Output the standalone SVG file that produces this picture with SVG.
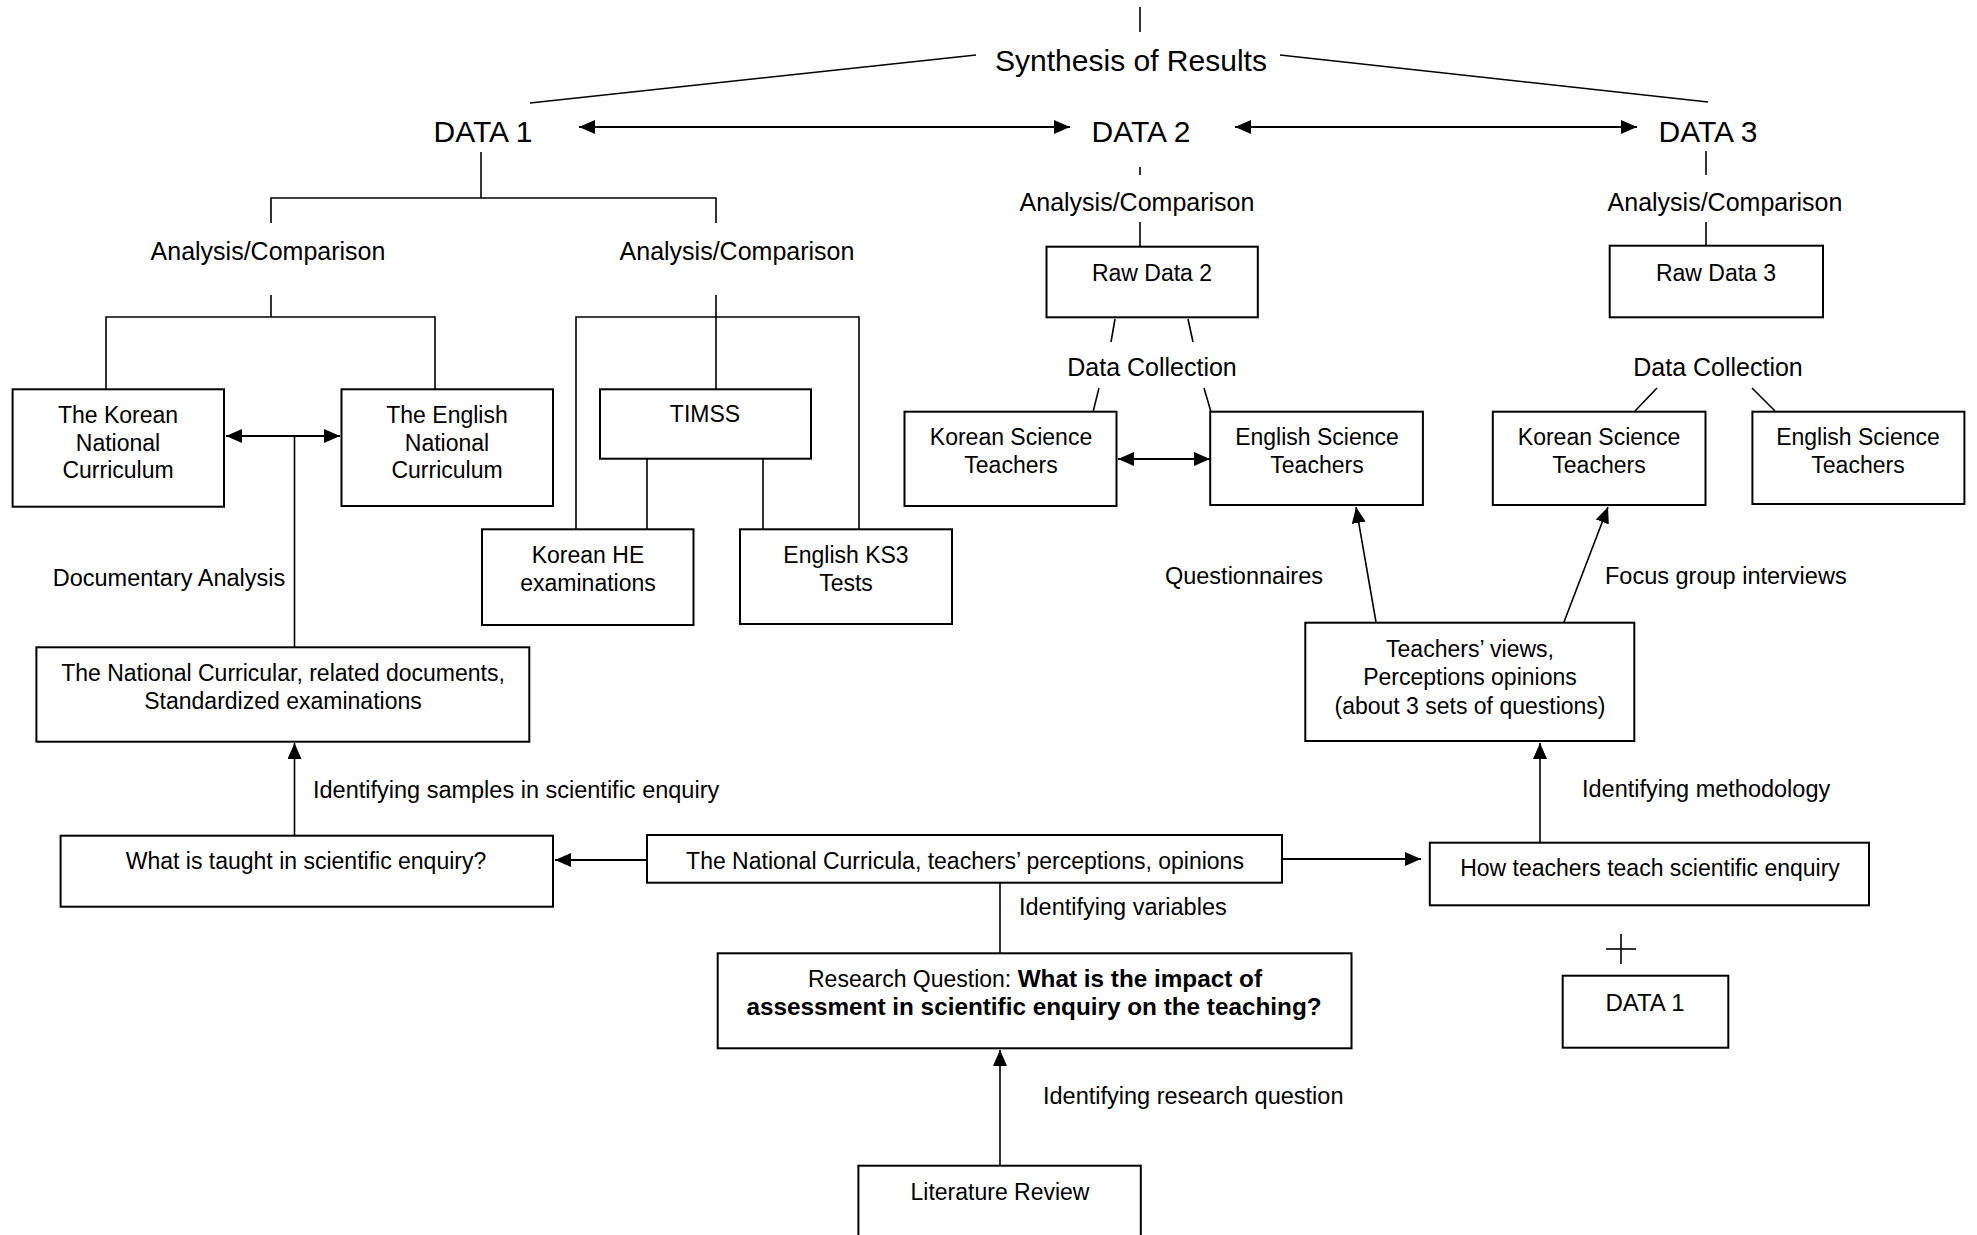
<svg xmlns="http://www.w3.org/2000/svg" width="1977" height="1235" viewBox="0 0 1977 1235">
  <style>
    text { font-family: "Liberation Sans", Arial, sans-serif; fill: #000; }
    .big { font-size: 30px; text-anchor: middle; }
    .mid { font-size: 25px; text-anchor: middle; }
    .c { font-size: 23px; text-anchor: middle; }
    .l { font-size: 23.5px; text-anchor: start; }
    .b { font-weight: bold; font-size: 24.3px; }
    .box { fill: #fff; stroke: #000; stroke-width: 2; }
    .ln { fill: none; stroke: #000; stroke-width: 1.6; }
    .ar { fill: none; stroke: #000; stroke-width: 2; }
  </style>
  <defs>
    <marker id="head" markerUnits="userSpaceOnUse" markerWidth="16" markerHeight="14" refX="16" refY="7" orient="auto-start-reverse">
      <path d="M0,0 L16,7 L0,14 z" fill="#000"/>
    </marker>
  </defs>
  <rect width="1977" height="1235" fill="#fff"/>

  <!-- connectors -->
  <g id="connectors">
    <!-- synthesis -->
    <line class="ln" x1="1140" y1="7" x2="1140" y2="32"/>
    <line class="ln" x1="530" y1="103" x2="976" y2="55"/>
    <line class="ln" x1="1280" y1="55" x2="1708" y2="102"/>
    <line class="ar" x1="579" y1="127" x2="1070" y2="127" marker-start="url(#head)" marker-end="url(#head)"/>
    <line class="ar" x1="1235" y1="127" x2="1637" y2="127" marker-start="url(#head)" marker-end="url(#head)"/>

    <!-- DATA 1 tree -->
    <polyline class="ln" points="271,223 271,198 716,198 716,223"/>
    <line class="ln" x1="481" y1="152" x2="481" y2="198"/>
    <line class="ln" x1="271" y1="295" x2="271" y2="317"/>
    <polyline class="ln" points="106,389 106,317 435,317 435,389"/>
    <line class="ln" x1="716" y1="295" x2="716" y2="389"/>
    <polyline class="ln" points="576,529 576,317 859,317 859,529"/>
    <line class="ln" x1="647" y1="459" x2="647" y2="529"/>
    <line class="ln" x1="763" y1="459" x2="763" y2="529"/>
    <line class="ar" x1="226" y1="436" x2="340" y2="436" marker-start="url(#head)" marker-end="url(#head)"/>
    <line class="ln" x1="294.5" y1="436" x2="294.5" y2="647"/>

    <!-- DATA 2 tree -->
    <line class="ln" x1="1140" y1="167" x2="1140" y2="175"/>
    <line class="ln" x1="1140" y1="222" x2="1140" y2="247"/>
    <line class="ln" x1="1115" y1="319" x2="1111" y2="342"/>
    <line class="ln" x1="1188" y1="319" x2="1193" y2="342"/>
    <line class="ln" x1="1099" y1="388" x2="1093" y2="412"/>
    <line class="ln" x1="1204" y1="388" x2="1211" y2="412"/>
    <line class="ar" x1="1118" y1="459" x2="1210" y2="459" marker-start="url(#head)" marker-end="url(#head)"/>

    <!-- DATA 3 tree -->
    <line class="ln" x1="1706" y1="151" x2="1706" y2="175"/>
    <line class="ln" x1="1706" y1="222" x2="1706" y2="246"/>
    <line class="ln" x1="1657" y1="388" x2="1635" y2="411"/>
    <line class="ln" x1="1752" y1="388" x2="1775" y2="411"/>

    <!-- teachers' views up to the teacher groups -->
    <line class="ln" x1="1376" y1="622" x2="1356" y2="507" marker-end="url(#head)"/>
    <line class="ln" x1="1564" y1="622" x2="1608" y2="507" marker-end="url(#head)"/>

    <!-- lower flow -->
    <line class="ln" x1="294.5" y1="836" x2="294.5" y2="743" marker-end="url(#head)"/>
    <line class="ar" x1="647" y1="860" x2="555" y2="860" marker-end="url(#head)"/>
    <line class="ar" x1="1282" y1="859" x2="1421" y2="859" marker-end="url(#head)"/>
    <line class="ln" x1="1540" y1="843" x2="1540" y2="743" marker-end="url(#head)"/>
    <line class="ln" x1="1000" y1="883" x2="1000" y2="953"/>
    <line class="ln" x1="1000" y1="1166" x2="1000" y2="1050" marker-end="url(#head)"/>

    <!-- plus sign -->
    <line class="ln" x1="1606" y1="949" x2="1636" y2="949"/>
    <line class="ln" x1="1621" y1="934" x2="1621" y2="964"/>
  </g>

  <!-- heading labels -->
  <g id="synthesis"><text class="big" x="1131" y="71">Synthesis of Results</text></g>
  <g id="data1"><text class="big" x="483" y="142">DATA 1</text></g>
  <g id="data2"><text class="big" x="1141" y="142">DATA 2</text></g>
  <g id="data3"><text class="big" x="1708" y="142">DATA 3</text></g>

  <!-- edge / stage labels -->
  <g id="labels">
    <text class="mid" x="268" y="260">Analysis/Comparison</text>
    <text class="mid" x="737" y="260">Analysis/Comparison</text>
    <text class="mid" x="1137" y="211">Analysis/Comparison</text>
    <text class="mid" x="1725" y="211">Analysis/Comparison</text>
    <text class="mid" x="1152" y="376">Data Collection</text>
    <text class="mid" x="1718" y="376">Data Collection</text>
    <text class="c" x="169" y="586" style="font-size:23.5px">Documentary Analysis</text>
    <text class="c" x="1244" y="584" style="font-size:23.5px">Questionnaires</text>
    <text class="l" x="1605" y="584">Focus group interviews</text>
    <text class="l" x="313" y="798">Identifying samples in scientific enquiry</text>
    <text class="l" x="1582" y="797">Identifying methodology</text>
    <text class="l" x="1019" y="915">Identifying variables</text>
    <text class="l" x="1043" y="1104">Identifying research question</text>
  </g>

  <g id="korean-nc">
    <rect class="box" x="12.6" y="389.3" width="211.4" height="117.4"/>
    <text class="c" x="118" y="423">The Korean</text>
    <text class="c" x="118" y="451">National</text>
    <text class="c" x="118" y="478">Curriculum</text>
  </g>
  <g id="english-nc">
    <rect class="box" x="341.5" y="389.3" width="211.5" height="116.7"/>
    <text class="c" x="447" y="423">The English</text>
    <text class="c" x="447" y="451">National</text>
    <text class="c" x="447" y="478">Curriculum</text>
  </g>
  <g id="timss">
    <rect class="box" x="600" y="389.3" width="211" height="69.4"/>
    <text class="c" x="705" y="422">TIMSS</text>
  </g>
  <g id="korean-he">
    <rect class="box" x="482" y="529.3" width="211.5" height="95.7"/>
    <text class="c" x="588" y="563">Korean HE</text>
    <text class="c" x="588" y="591">examinations</text>
  </g>
  <g id="english-ks3">
    <rect class="box" x="740" y="529.3" width="212" height="94.7"/>
    <text class="c" x="846" y="563">English KS3</text>
    <text class="c" x="846" y="591">Tests</text>
  </g>
  <g id="national-curricular">
    <rect class="box" x="36.4" y="647.3" width="492.9" height="94.4"/>
    <text class="c" x="283" y="681">The National Curricular, related documents,</text>
    <text class="c" x="283" y="709">Standardized examinations</text>
  </g>
  <g id="what-taught">
    <rect class="box" x="60.6" y="835.7" width="492.4" height="71"/>
    <text class="c" x="306" y="869">What is taught in scientific enquiry?</text>
  </g>
  <g id="national-curricula">
    <rect class="box" x="647" y="835" width="635" height="47.7"/>
    <text class="c" x="965" y="869">The National Curricula, teachers’ perceptions, opinions</text>
  </g>
  <g id="how-teach">
    <rect class="box" x="1429.8" y="842.7" width="439.2" height="62.6"/>
    <text class="c" x="1650" y="876">How teachers teach scientific enquiry</text>
  </g>
  <g id="data1-box">
    <rect class="box" x="1562.7" y="975.7" width="165.6" height="72"/>
    <text class="c" x="1645" y="1011" style="font-size:24px">DATA 1</text>
  </g>
  <g id="research-question">
    <rect class="box" x="717.7" y="953.3" width="633.8" height="95"/>
    <text class="c" x="1035" y="987">Research Question: <tspan class="b">What is the impact of</tspan></text>
    <text class="c b" x="1034" y="1015">assessment in scientific enquiry on the teaching?</text>
  </g>
  <g id="literature-review">
    <rect class="box" x="858.4" y="1165.7" width="282.4" height="80"/>
    <text class="c" x="1000" y="1200">Literature Review</text>
  </g>
  <g id="raw-data-2">
    <rect class="box" x="1046.5" y="246.7" width="211.3" height="70.6"/>
    <text class="c" x="1152" y="281">Raw Data 2</text>
  </g>
  <g id="raw-data-3">
    <rect class="box" x="1609.7" y="245.7" width="213.3" height="71.6"/>
    <text class="c" x="1716" y="281">Raw Data 3</text>
  </g>
  <g id="korean-teachers-2">
    <rect class="box" x="904.5" y="411.7" width="212" height="94.3"/>
    <text class="c" x="1011" y="445">Korean Science</text>
    <text class="c" x="1011" y="473">Teachers</text>
  </g>
  <g id="english-teachers-2">
    <rect class="box" x="1210.2" y="411.7" width="212.7" height="93.3"/>
    <text class="c" x="1317" y="445">English Science</text>
    <text class="c" x="1317" y="473">Teachers</text>
  </g>
  <g id="korean-teachers-3">
    <rect class="box" x="1492.8" y="411.7" width="212.7" height="93.3"/>
    <text class="c" x="1599" y="445">Korean Science</text>
    <text class="c" x="1599" y="473">Teachers</text>
  </g>
  <g id="english-teachers-3">
    <rect class="box" x="1752.4" y="411.7" width="212" height="92.3"/>
    <text class="c" x="1858" y="445">English Science</text>
    <text class="c" x="1858" y="473">Teachers</text>
  </g>
  <g id="teachers-views">
    <rect class="box" x="1305.3" y="622.7" width="329" height="118.3"/>
    <text class="c" x="1470" y="657">Teachers’ views,</text>
    <text class="c" x="1470" y="685">Perceptions opinions</text>
    <text class="c" x="1470" y="714">(about 3 sets of questions)</text>
  </g>
</svg>
